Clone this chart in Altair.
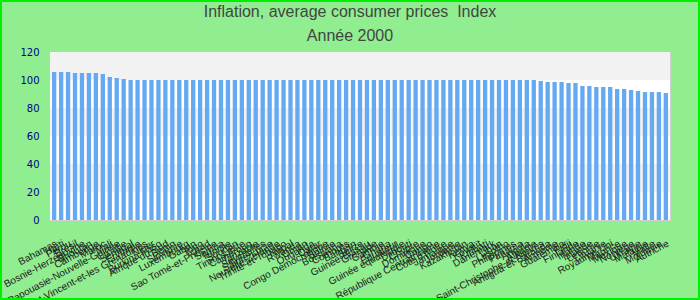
import altair as alt
import pandas as pd

title_line1 = "Inflation, average consumer prices \u00a0Index"
title_line2 = "Année 2000"

countries = [
    "Bahamas", "Haïti", "Pérou", "Brésil", "Bosnie-Herzégovine", "Bhoutan", "Cambodge",
    "Maroc", "Mali", "Papouasie-Nouvelle-Guinée", "Croatie", "Sénégal", "Érythrée",
    "Saint-Vincent-et-les Grenadines", "Niger", "Burkina Faso", "Afrique du Sud", "Bénin",
    "Slovénie", "Luxembourg", "Gabon", "Togo", "Tchad", "Sao Tomé-et-Principe", "Samoa",
    "Tunisie", "Soudan", "Timor-Leste", "Cameroun", "Tanzanie", "Seychelles", "Sainte-Lucie",
    "Nouvelle-Zélande", "Trinité-et-Tobago", "Népal", "Rwanda", "Oman", "Ouganda", "Qatar",
    "Congo Démocratique", "Bolivie", "Botswana", "Comores", "Bahreïn", "Belize",
    "Guinée-Bissau", "Grenade", "Gambie", "Ghana", "Équateur", "Guinée équatoriale",
    "Djibouti", "Chypre", "Dominique", "Congo", "République Centrafricaine", "Côte d'Ivoire",
    "Jamaïque", "Jordanie", "Kazakhstan", "Kenya", "Koweït", "Kiribati", "Danemark", "Liban",
    "Lesotho", "Philippines", "Panama", "Angola", "Albanie",
    "Saint-Christophe-et-Niévès", "Antigua-et-Barbuda", "Arménie", "Guatemala", "Fidji",
    "Finlande", "Irlande", "Islande", "Lettonie", "Lituanie", "Royaume-Uni", "Maurice",
    "Mexique", "Norvège", "Ukraine", "Malaisie", "Malte", "Moldavie", "Autriche",
]

values = (
    [105.7, 105.7, 105.7, 105.0, 105.0, 105.0, 105.0, 104.3, 102.1, 101.4, 100.7]
    + [100.0] * 59
    + [99.3, 98.6, 98.6, 98.6, 97.9, 97.9, 95.7, 95.7, 95.0, 95.0, 95.0,
       93.6, 93.6, 92.9, 92.2, 91.4, 91.4, 91.4, 90.7]
)

band_start = [0, 20, 40, 60, 80, 100]
band_end = [20, 40, 60, 80, 100, 120]
band_fill = ["#ffffff", "#f2f2f2", "#ffffff", "#f2f2f2", "#ffffff", "#f2f2f2"]

y_ticks = [0, 20, 40, 60, 80, 100, 120]

df = pd.DataFrame({"pays": countries, "valeur": values})
bands = pd.DataFrame({"y0": band_start, "y1": band_end, "fill": band_fill})
titles = pd.DataFrame({"t1": [title_line1], "t2": [title_line2]})

yscale = alt.Scale(domain=[0, 120], nice=False, zero=True)
yaxis = alt.Axis(
    title=None,
    values=y_ticks,
    grid=False,
    ticks=False,
    domain=False,
    labelFont="DejaVu Sans",
    labelFontSize=10,
    labelColor="#00008b",
    labelPadding=11,
)

band_layer = alt.Chart(bands).mark_rect().encode(
    x=alt.value(0),
    x2=alt.value(620),
    y=alt.Y("y0:Q", scale=yscale, axis=yaxis),
    y2="y1:Q",
    fill=alt.Fill("fill:N", scale=None, legend=None),
)

bar_layer = alt.Chart(df).mark_bar(color="#65a9f2").encode(
    x=alt.X(
        "pays:N",
        sort=None,
        scale=alt.Scale(paddingInner=0.38, paddingOuter=0.29),
        axis=alt.Axis(
            title=None,
            labelAngle=-28,
            labelAlign="right",
            labelBaseline="top",
            labelPadding=18,
            labelFont="Liberation Sans",
            labelFontSize=10,
            labelColor="#222222",
            labelOverlap=False,
            labelLimit=300,
            ticks=False,
            domain=False,
        ),
    ),
    y=alt.Y("valeur:Q", scale=yscale, axis=yaxis),
    tooltip=["pays:N", "valeur:Q"],
)

title_style = dict(font="Liberation Sans", fontSize=16, color="#444444", align="center", baseline="alphabetic")

t1 = alt.Chart(titles).mark_text(**title_style).encode(
    text="t1:N", x=alt.value(300), y=alt.value(-35)
)
t2 = alt.Chart(titles).mark_text(**title_style).encode(
    text="t2:N", x=alt.value(300), y=alt.value(-11)
)

border = alt.Chart(titles).mark_rect(
    fill=None, stroke="#00ee00", strokeWidth=2
).encode(
    x=alt.value(-49), x2=alt.value(649), y=alt.value(-51), y2=alt.value(247)
)

chart = alt.layer(band_layer, bar_layer, t1, t2, border).properties(
    width=620,
    height=168,
    autosize=alt.AutoSizeParams(type="none"),
    padding={"left": 50, "top": 52, "right": 30, "bottom": 80},
    background="#90ee90",
).configure_view(stroke="#d0d0d0", strokeWidth=1)

chart.save("out.html", embed_options={"renderer": "svg", "actions": False})
